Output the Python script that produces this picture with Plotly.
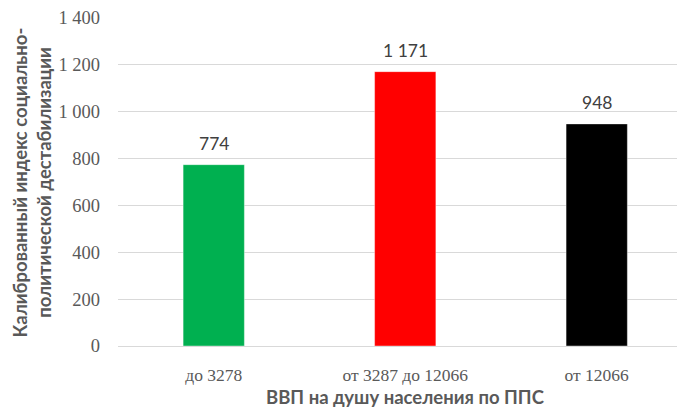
import plotly.graph_objects as go

categories = ["до 3278", "от 3287 до 12066", "от 12066"]
values = [774, 1171, 948]
labels = ["774", "1 171", "948"]
colors = ["#00B050", "#FF0000", "#000000"]
tick_vals = [0, 200, 400, 600, 800, 1000, 1200, 1400]
tick_text = ["0", "200", "400", "600", "800", "1 000", "1 200", "1 400"]

fig = go.Figure()
fig.add_trace(go.Bar(
    x=list(range(len(categories))), y=values,
    marker=dict(color=colors, line=dict(color="rgba(255,255,255,0.4)", width=1)),
    width=0.32,
))

annotations = []
for i, (v, t) in enumerate(zip(values, labels)):
    annotations.append(dict(
        x=i, y=v, text=t, showarrow=False, xanchor="center", yanchor="middle",
        yshift=21, font=dict(family="Lato", size=17.5, color="#404040")))

annotations += [
    dict(text="Калиброванный индекс социально-<br>политической дестабилизации",
         xref="paper", yref="paper", x=-0.151, y=0.5,
         xanchor="center", yanchor="middle", textangle=-90, showarrow=False,
         font=dict(family="Lato", size=18.5, color="#595959", weight="bold")),
    dict(text="ВВП на душу населения по ППС",
         xref="paper", yref="paper", x=(405-118)/567, y=-(397-346)/328,
         xanchor="center", yanchor="middle", showarrow=False,
         font=dict(family="Lato", size=18.5, color="#595959", weight="bold")),
]

fig.update_layout(
    width=685, height=410,
    margin=dict(l=110, r=8, t=10, b=72),
    plot_bgcolor="white", paper_bgcolor="white",
    showlegend=False,
    xaxis=dict(
        range=[-0.5, 2.461], automargin=False,
        tickvals=list(range(len(categories))), ticktext=categories,
        tickfont=dict(family="Liberation Serif", size=17.5, color="#595959"),
        showgrid=False, zeroline=False, showline=False, ticks="",
        ticklabelstandoff=16,
    ),
    yaxis=dict(
        range=[0, 1400], automargin=False,
        tickvals=tick_vals, ticktext=tick_text,
        tickfont=dict(family="Liberation Serif", size=18.5, color="#595959"),
        showgrid=True, gridcolor="#D9D9D9", gridwidth=1,
        zeroline=True, zerolinecolor="#D9D9D9", zerolinewidth=1,
        ticks="", ticklabelstandoff=17,
    ),
    annotations=annotations,
)

fig.write_html("out.html")
